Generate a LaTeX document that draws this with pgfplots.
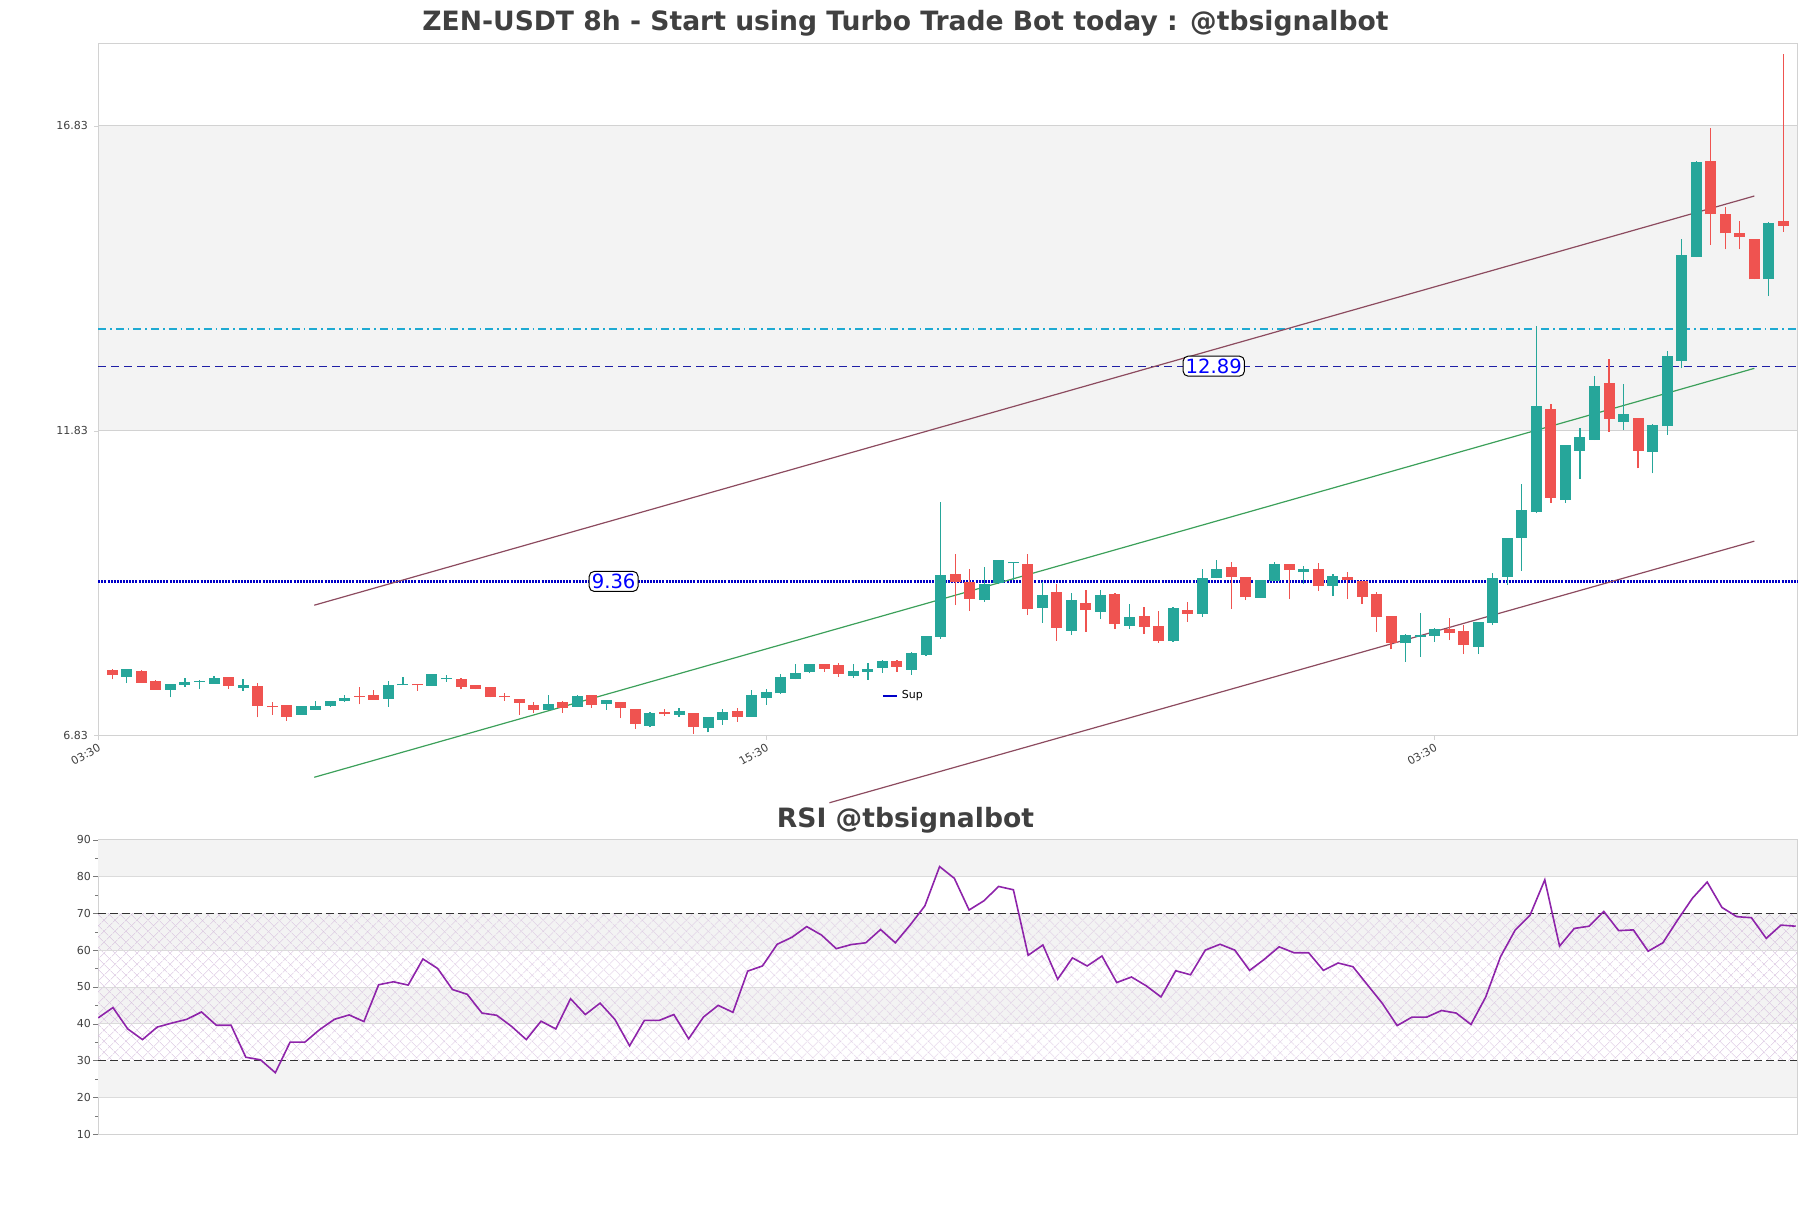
\documentclass[border=0pt]{standalone}
\usepackage{fontspec}
\setmainfont{DejaVu Sans}
\usepackage{pgfplots}
\pgfplotsset{compat=1.18}
\usepackage{pgfplotstable}
\usetikzlibrary{patterns.meta}

\definecolor{upc}{RGB}{38,166,154}
\definecolor{dnc}{RGB}{239,83,80}
\definecolor{bandgray}{RGB}{243,243,243}
\definecolor{framegray}{RGB}{210,210,210}
\definecolor{txtgray}{RGB}{64,64,64}
\definecolor{chan}{RGB}{140,75,95}
\definecolor{chgreen}{RGB}{60,160,90}
\definecolor{supblue}{RGB}{0,0,200}
\definecolor{resnavy}{RGB}{30,30,165}
\definecolor{rescyan}{RGB}{30,170,210}
\definecolor{rsipurple}{RGB}{142,36,170}
\definecolor{hatchc}{RGB}{212,188,220}

% bullish candles: index, open, high, low, close
\pgfplotstableread{
i o h l c
1 7.80 7.93 7.69 7.924
4 7.585 7.68 7.46 7.678
5 7.667 7.77 7.635 7.711
6 7.711 7.735 7.60 7.733
7 7.684 7.81 7.68 7.777
9 7.618 7.766 7.569 7.662
13 7.175 7.312 7.17 7.312
14 7.257 7.394 7.255 7.312
15 7.323 7.40 7.307 7.40
16 7.40 7.498 7.389 7.443
19 7.438 7.728 7.307 7.662
20 7.656 7.788 7.656 7.684
22 7.651 7.842 7.651 7.842
23 7.755 7.82 7.717 7.775
30 7.252 7.498 7.25 7.35
32 7.307 7.498 7.30 7.482
34 7.356 7.416 7.257 7.416
37 6.995 7.219 6.968 7.203
39 7.175 7.279 7.143 7.236
41 6.957 7.132 6.886 7.132
42 7.088 7.263 7.011 7.219
44 7.143 7.58 7.14 7.498
45 7.454 7.591 7.339 7.547
46 7.525 7.842 7.52 7.793
47 7.766 8.006 7.755 7.859
48 7.881 8.006 7.853 8.006
51 7.815 8.006 7.782 7.892
52 7.881 8.017 7.744 7.919
53 7.946 8.072 7.864 8.056
55 7.913 8.209 7.831 8.181
56 8.158 8.464 8.136 8.464
57 8.453 10.657 8.421 9.465
60 9.055 9.596 9.028 9.317
61 9.328 9.711 9.317 9.711
62 9.656 9.684 9.383 9.684
64 8.929 9.356 8.683 9.137
66 8.552 9.164 8.481 9.055
68 8.858 9.219 8.743 9.137
70 8.634 8.989 8.579 8.776
73 8.382 8.94 8.371 8.924
75 8.831 9.563 8.782 9.416
76 9.416 9.711 9.41 9.563
79 9.088 9.383 9.085 9.383
80 9.366 9.678 9.366 9.651
82 9.514 9.612 9.317 9.563
84 9.284 9.481 9.12 9.448
89 8.344 8.492 8.043 8.481
90 8.453 8.836 8.125 8.481
91 8.47 8.601 8.371 8.579
94 8.284 8.694 8.169 8.694
95 8.683 9.492 8.645 9.41
96 9.437 10.066 9.301 10.066
97 10.077 10.957 9.536 10.531
98 10.498 13.549 10.476 12.236
100 10.695 11.597 10.651 11.597
101 11.504 11.876 11.039 11.728
102 11.679 12.729 11.675 12.565
104 11.98 12.597 11.843 12.105
106 11.488 11.941 11.132 11.925
107 11.908 13.139 11.761 13.057
108 12.975 14.97 12.854 14.713
109 14.685 16.249 14.68 16.238
114 14.314 15.259 14.04 15.243
}\upcandles

% bearish candles
\pgfplotstableread{
i o h l c
0 7.908 7.93 7.755 7.831
2 7.892 7.90 7.70 7.70
3 7.728 7.745 7.585 7.585
8 7.793 7.80 7.596 7.646
10 7.646 7.689 7.132 7.323
11 7.318 7.383 7.175 7.296
12 7.328 7.335 7.077 7.143
17 7.482 7.624 7.345 7.465
18 7.498 7.58 7.416 7.416
21 7.678 7.68 7.569 7.656
24 7.76 7.771 7.591 7.635
25 7.662 7.665 7.591 7.602
26 7.629 7.63 7.46 7.471
27 7.48 7.536 7.40 7.46
28 7.427 7.43 7.175 7.372
29 7.328 7.383 7.208 7.252
31 7.383 7.40 7.208 7.29
33 7.492 7.495 7.29 7.339
35 7.383 7.385 7.115 7.29
36 7.263 7.265 6.946 7.028
38 7.219 7.263 7.153 7.185
40 7.203 7.205 6.864 6.979
43 7.236 7.279 7.061 7.143
49 8.006 8.01 7.881 7.93
50 7.99 8.017 7.799 7.848
54 8.056 8.072 7.881 7.963
58 9.481 9.809 8.973 9.356
59 9.356 9.563 8.88 9.077
63 9.645 9.809 8.809 8.913
65 9.186 9.317 8.388 8.601
67 9.0 9.219 8.536 8.891
69 9.153 9.175 8.579 8.661
71 8.792 8.94 8.497 8.617
72 8.628 8.874 8.355 8.382
74 8.891 9.022 8.70 8.831
77 9.596 9.678 8.907 9.437
78 9.432 9.435 9.055 9.104
81 9.645 9.65 9.071 9.547
83 9.563 9.662 9.202 9.284
85 9.432 9.514 9.071 9.383
86 9.366 9.37 8.989 9.109
87 9.153 9.181 8.535 8.781
88 8.792 8.795 8.246 8.355
92 8.579 8.754 8.399 8.519
93 8.546 8.645 8.169 8.317
99 12.187 12.264 10.651 10.733
103 12.614 13.007 11.816 12.029
105 12.04 12.045 11.214 11.504
110 16.249 16.79 14.882 15.38
111 15.385 15.506 14.806 15.068
112 15.074 15.27 14.806 15.014
113 14.975 14.98 14.314 14.314
115 15.27 18.009 15.095 15.194
}\dncandles

\pgfplotstableread{
i r
0 41.6
1 44.4
2 38.6
3 35.7
4 39.1
5 40.2
6 41.2
7 43.2
8 39.6
9 39.6
10 30.9
11 30.2
12 26.7
13 35.0
14 35.0
15 38.4
16 41.2
17 42.4
18 40.6
19 50.6
20 51.4
21 50.5
22 57.6
23 55.0
24 49.3
25 48.0
26 42.9
27 42.3
28 39.3
29 35.7
30 40.7
31 38.6
32 46.8
33 42.5
34 45.6
35 41.2
36 34.0
37 40.9
38 40.9
39 42.5
40 35.9
41 41.8
42 45.0
43 43.1
44 54.3
45 55.7
46 61.6
47 63.5
48 66.4
49 64.1
50 60.4
51 61.5
52 62.0
53 65.6
54 62.0
55 66.8
56 72.0
57 82.7
58 79.5
59 70.9
60 73.4
61 77.3
62 76.4
63 58.6
64 61.4
65 52.1
66 57.9
67 55.7
68 58.4
69 51.2
70 52.7
71 50.3
72 47.3
73 54.4
74 53.3
75 60.0
76 61.6
77 60.0
78 54.5
79 57.5
80 60.9
81 59.3
82 59.3
83 54.5
84 56.5
85 55.5
86 50.5
87 45.5
88 39.5
89 41.8
90 41.8
91 43.6
92 42.9
93 39.8
94 47.3
95 58.2
96 65.5
97 69.5
98 79.1
99 61.1
100 65.9
101 66.5
102 70.5
103 65.3
104 65.5
105 59.7
106 62.0
107 68.2
108 74.1
109 78.5
110 71.6
111 69.1
112 68.8
113 63.2
114 66.8
115 66.5
}\rsidata

\pgfplotsset{
  tickfont/.style={font=\fontsize{5.5}{6}\selectfont, text=txtgray},
  wick/.style={draw=none, mark=none, forget plot,
    error bars/.cd, y dir=plus, y explicit, error mark=none,
    error bar style={draw=#1, solid, line width=0.6pt}},
  body/.style={draw=none, mark=none, forget plot,
    error bars/.cd, y dir=plus, y explicit, error mark=none,
    error bar style={draw=#1, solid, line width=5.5pt}},
}

\begin{document}
\begin{tikzpicture}
\useasboundingbox (0,0) rectangle (905.5pt,604pt);

\node[font=\fontsize{13.3}{15}\selectfont\bfseries, text=txtgray] at (452.75pt,592.4pt)
  {ZEN-USDT 8h - Start using Turbo Trade Bot today : @tbsignalbot};
\node[font=\fontsize{13.3}{15}\selectfont\bfseries, text=txtgray] at (452.75pt,194pt)
  {RSI @tbsignalbot};

% price chart
\begin{axis}[
  at={(49.1pt,236.15pt)}, anchor=south west,
  scale only axis, width=849.5pt, height=345.9pt,
  xmin=-0.97, xmax=115.95, ymin=6.83, ymax=18.175,
  clip=false,
  axis line style={framegray, line width=0.6pt},
  xtick={-0.97,45,91}, xticklabels={03:30,15:30,03:30},
  ytick={6.83,11.83,16.83}, yticklabels={6.83,11.83,16.83},
  xtick pos=bottom, ytick pos=left,
  tick align=outside, major tick length=2pt,
  tick style={framegray},
  ticklabel style={tickfont},
  xticklabel style={rotate=30, anchor=north east, inner sep=1pt},
  yticklabel style={inner sep=1pt, xshift=-2pt},
  legend style={at={(0.461,0.057)}, anchor=west, draw=none, fill=none,
    font=\fontsize{5.5}{6}\selectfont, inner sep=0pt},
]
% resistance zone
\addplot[draw=framegray, line width=0.4pt, fill=bandgray, forget plot]
  coordinates {(-0.97,11.83) (115.95,11.83) (115.95,16.83) (-0.97,16.83) (-0.97,11.83)};

% levels
\addplot[rescyan, line width=0.6pt, dash pattern=on 4pt off 2pt on 0.8pt off 2pt, forget plot]
  coordinates {(-0.97,13.50) (115.95,13.50)};
\addplot[resnavy, line width=0.65pt, dash pattern=on 4pt off 2.5pt, forget plot]
  coordinates {(-0.97,12.89) (115.95,12.89)};
\addplot[supblue, line width=1.2pt, dash pattern=on 1pt off 0.55pt,
  legend image code/.code={\draw[supblue, solid, line width=1pt] (0pt,0pt) -- (7pt,0pt);}]
  coordinates {(-0.97,9.36) (115.95,9.36)};
\addlegendentry{Sup}

% channel
\addplot[chan, line width=0.6pt, forget plot] coordinates {(13.9,8.97) (113.0,15.68)};
\addplot[chgreen, line width=0.6pt, forget plot] coordinates {(13.9,6.148) (113.0,12.854)};
\addplot[chan, line width=0.6pt, forget plot] coordinates {(49.35,5.73) (113.0,10.02)};

% candles
\addplot[wick=upc] table[x=i, y=l, y error plus expr=\thisrow{h}-\thisrow{l}] {\upcandles};
\addplot[body=upc] table[x=i, y=o, y error plus expr=\thisrow{c}-\thisrow{o}] {\upcandles};
\addplot[wick=dnc] table[x=i, y=l, y error plus expr=\thisrow{h}-\thisrow{l}] {\dncandles};
\addplot[body=dnc] table[x=i, y=c, y error plus expr=\thisrow{o}-\thisrow{c}] {\dncandles};

\node[draw=black, fill=white, rounded corners=2.5pt, line width=0.5pt, inner sep=1.3pt,
  text=blue, font=\fontsize{9.8}{11}\selectfont] at (axis cs:34.5,9.36) {9.36};
\node[draw=black, fill=white, rounded corners=2.5pt, line width=0.5pt, inner sep=1.3pt,
  text=blue, font=\fontsize{9.8}{11}\selectfont] at (axis cs:75.8,12.89) {12.89};
\end{axis}

% RSI panel
\begin{axis}[
  at={(49.1pt,36.9pt)}, anchor=south west,
  scale only axis, width=849.5pt, height=147.25pt,
  xmin=0, xmax=115.1, ymin=10, ymax=90,
  axis line style={framegray, line width=0.6pt},
  xtick=\empty,
  ytick={10,20,...,90}, minor ytick={15,25,...,85},
  ytick pos=left,
  tick align=outside, major tick length=2.5pt, minor tick length=1.5pt,
  tick style={txtgray!70},
  ticklabel style={tickfont},
  yticklabel style={inner sep=1pt},
  /pgf/number format/assume math mode=true,
]
\addplot[draw=none, fill=bandgray] coordinates {(0,80) (115.1,80) (115.1,90) (0,90)};
\addplot[draw=none, fill=bandgray] coordinates {(0,60) (115.1,60) (115.1,70) (0,70)};
\addplot[draw=none, fill=bandgray] coordinates {(0,40) (115.1,40) (115.1,50) (0,50)};
\addplot[draw=none, fill=bandgray] coordinates {(0,20) (115.1,20) (115.1,30) (0,30)};
\addplot[draw=none, pattern={Lines[angle=45,distance=4pt,line width=0.3pt]}, pattern color=hatchc]
  coordinates {(0,30) (115.1,30) (115.1,70) (0,70)};
\addplot[draw=none, pattern={Lines[angle=-45,distance=4pt,line width=0.3pt]}, pattern color=hatchc]
  coordinates {(0,30) (115.1,30) (115.1,70) (0,70)};
% grid
\addplot[framegray!80, line width=0.4pt] coordinates {(0,20) (115.1,20)};
\addplot[framegray!80, line width=0.4pt] coordinates {(0,40) (115.1,40)};
\addplot[framegray!80, line width=0.4pt] coordinates {(0,50) (115.1,50)};
\addplot[framegray!80, line width=0.4pt] coordinates {(0,60) (115.1,60)};
\addplot[framegray!80, line width=0.4pt] coordinates {(0,80) (115.1,80)};
% overbought / oversold
\addplot[black!80, line width=0.6pt, dash pattern=on 4pt off 2pt] coordinates {(0,70) (115.1,70)};
\addplot[black!80, line width=0.6pt, dash pattern=on 4pt off 2pt] coordinates {(0,30) (115.1,30)};

\addplot[rsipurple, line width=0.8pt] table[x=i, y=r] {\rsidata};
\end{axis}
\end{tikzpicture}
\end{document}
